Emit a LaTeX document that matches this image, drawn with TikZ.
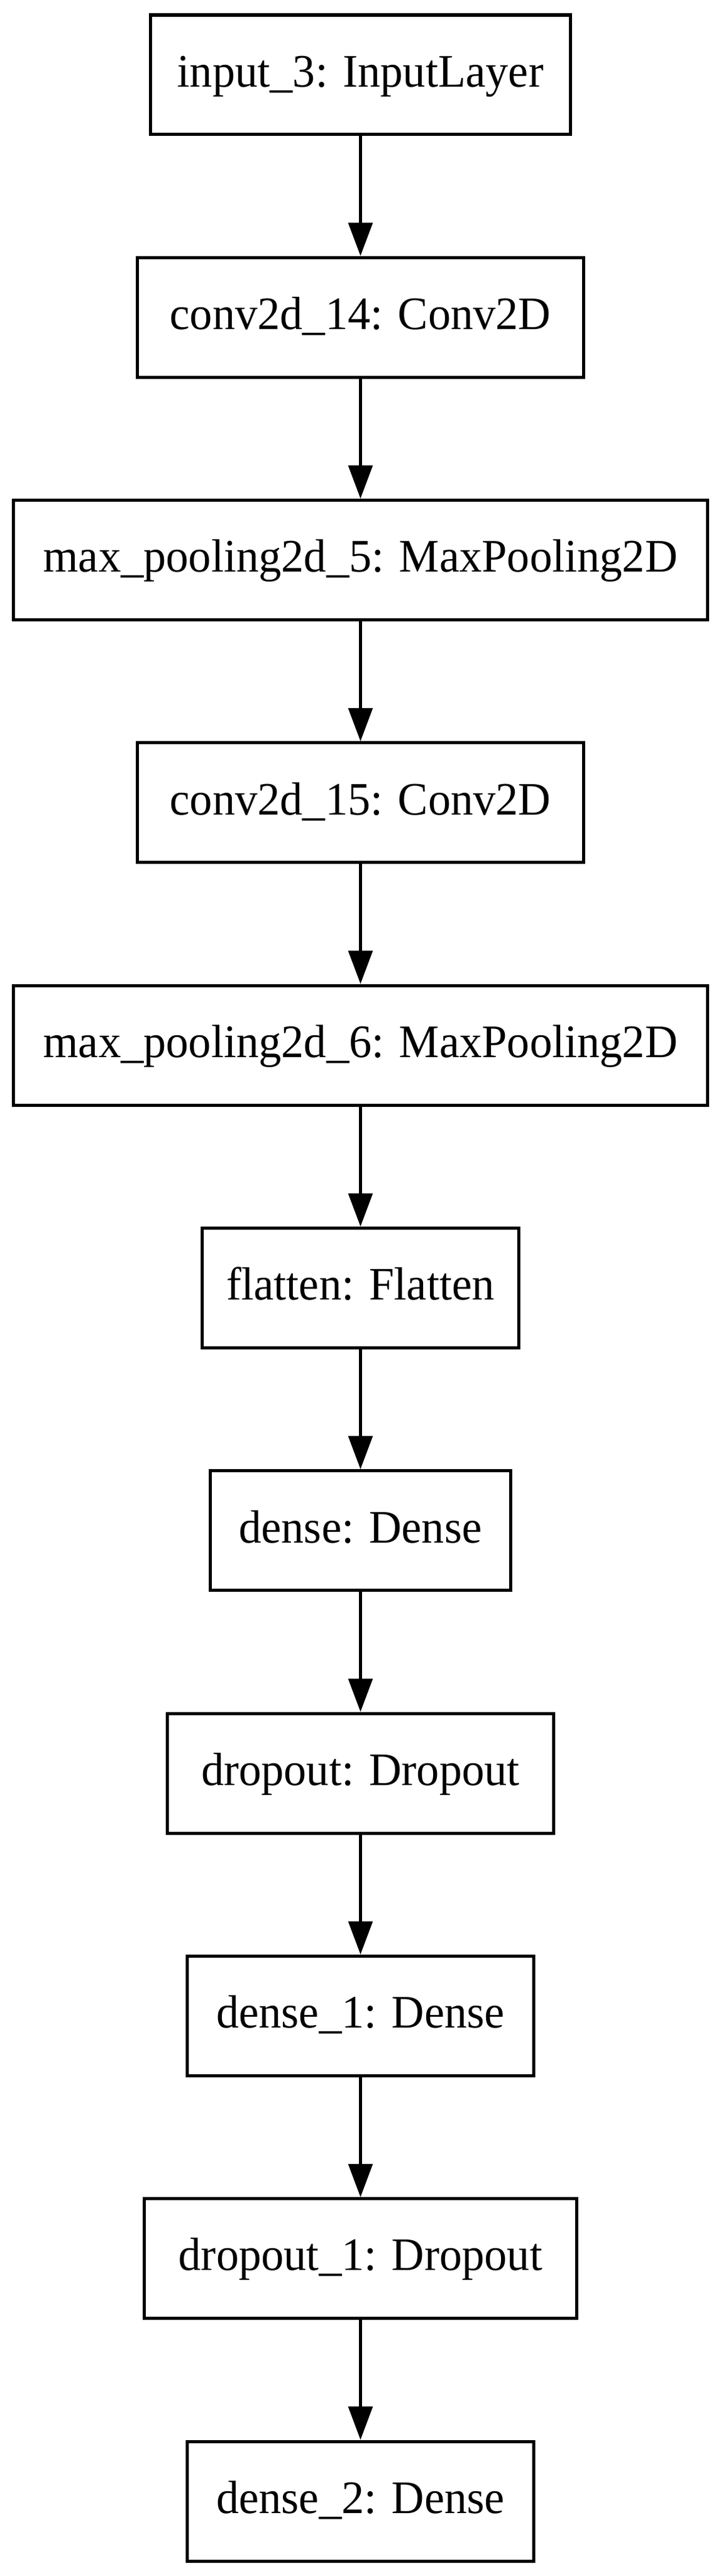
\documentclass[tikz,border=0pt]{standalone}
\usepackage{fontspec}
\setmainfont{Liberation Serif}
\newfontfamily\lblfont[FakeStretch=0.97]{Liberation Serif}
\usetikzlibrary{arrows.meta}
\begin{document}
\begin{tikzpicture}[x=1pt,y=1pt,
  layer/.style={draw=black, line width=0.95pt, rectangle, inner xsep=0pt, inner ysep=0pt,
    minimum height=36pt, text height=10pt, text depth=2.8pt,
    font=\lblfont\fontsize{14pt}{16pt}\selectfont, anchor=center},
  flow/.style={draw=black, line width=0.95pt, -{Triangle[length=10pt,width=7.2pt]}}]
\fill[white] (0,0) rectangle (216.95,-775);
\useasboundingbox (0,0) rectangle (216.95,-775);
\def\cx{108.47}
\node[layer, minimum width=126.4pt] (n1) at (\cx,-22.5) {input\_3: InputLayer};
\node[layer, minimum width=134.3pt] (n2) at (\cx,-95.5) {conv2d\_14: Conv2D};
\node[layer, minimum width=208.9pt] (n3) at (\cx,-168.5) {max\_pooling2d\_5: MaxPooling2D};
\node[layer, minimum width=134.3pt] (n4) at (\cx,-241.5) {conv2d\_15: Conv2D};
\node[layer, minimum width=208.9pt] (n5) at (\cx,-314.5) {max\_pooling2d\_6: MaxPooling2D};
\node[layer, minimum width=95.1pt] (n6) at (\cx,-387.5) {flatten: Flatten};
\node[layer, minimum width=90.4pt] (n7) at (\cx,-460.5) {dense: Dense};
\node[layer, minimum width=116.1pt] (n8) at (\cx,-533.5) {dropout: Dropout};
\node[layer, minimum width=104.3pt] (n9) at (\cx,-606.5) {dense\_1: Dense};
\node[layer, minimum width=130.1pt] (n10) at (\cx,-679.5) {dropout\_1: Dropout};
\node[layer, minimum width=104.3pt] (n11) at (\cx,-752.5) {dense\_2: Dense};
\foreach \a/\b in {n1/n2,n2/n3,n3/n4,n4/n5,n5/n6,n6/n7,n7/n8,n8/n9,n9/n10,n10/n11}
  \draw[flow] (\a.south) -- (\b.north);
\end{tikzpicture}
\end{document}
